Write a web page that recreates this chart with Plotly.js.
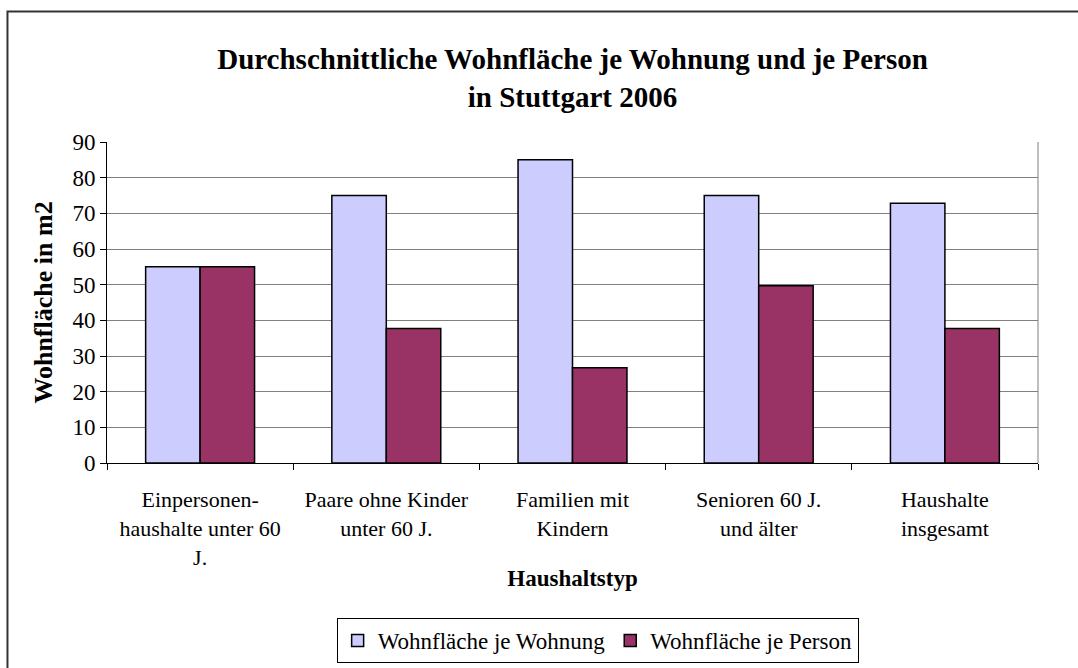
<!DOCTYPE html>
<html>
<head>
<meta charset="utf-8">
<script src="https://cdn.plot.ly/plotly-3.0.1.min.js"></script>
<style>html,body{margin:0;padding:0;background:#fff;}#chart{width:1078px;height:668px;}</style>
</head>
<body>
<div id="chart"></div>
<script>
const categories = [
  "Einpersonen-<br>haushalte unter 60<br>J.",
  "Paare ohne Kinder<br>unter 60 J.",
  "Familien mit<br>Kindern",
  "Senioren 60 J.<br>und älter",
  "Haushalte<br>insgesamt"
];
const wohnungValues = [55, 75, 85, 75, 72.8];
const personValues = [55, 37.7, 26.7, 49.7, 37.7];
const seriesNames = ["Wohnfläche je Wohnung", "Wohnfläche je Person"];
const titleText = "<b>Durchschnittliche Wohnfläche je Wohnung und je Person<br>in Stuttgart 2006</b>";
const xTitle = "<b>Haushaltstyp</b>";
const yTitle = "<b>Wohnfläche in m2</b>";

const serif = "'Times New Roman', 'Liberation Serif', 'DejaVu Serif', Times, serif";

const traces = [
  {type: "bar", name: seriesNames[0], x: categories, y: wohnungValues,
   marker: {color: "#CCCCFF", line: {color: "#000", width: 1.5}}, hoverinfo: "y"},
  {type: "bar", name: seriesNames[1], x: categories, y: personValues,
   marker: {color: "#993366", line: {color: "#000", width: 1.5}}, hoverinfo: "y"}
];

const layout = {
  width: 1078, height: 668,
  margin: {l: 107, r: 40, t: 142, b: 205, autoexpand: false},
  paper_bgcolor: "#fff", plot_bgcolor: "#fff",
  font: {family: serif, color: "#000", size: 20},
  title: {text: titleText, x: 0.5, xref: "paper", y: 0.896, yanchor: "middle",
          font: {family: serif, size: 29, color: "#000"}},
  barmode: "group", bargap: 0.415, bargroupgap: 0,
  showlegend: true,
  legend: {orientation: "h", x: 0.527, xanchor: "center", y: -0.483, yanchor: "top",
           bordercolor: "#000", borderwidth: 1, font: {family: serif, size: 23, color: "#000"},
           traceorder: "normal", itemwidth: 30},
  xaxis: {type: "category", showline: true, linecolor: "#000", linewidth: 1,
          ticks: "outside", tickson: "boundaries", ticklen: 6, tickcolor: "#000",
          tickfont: {family: serif, size: 22, color: "#000"}, ticklabelstandoff: 17,
          title: {text: xTitle, font: {family: serif, size: 23, color: "#000"}, standoff: 1},
          showgrid: false, zeroline: false, automargin: false},
  yaxis: {range: [0, 90], dtick: 10, showline: true, linecolor: "#000", linewidth: 1,
          ticks: "outside", ticklen: 6, tickcolor: "#000",
          tickfont: {family: serif, size: 23, color: "#000"}, ticklabelstandoff: 0,
          showgrid: true, gridcolor: "#808080", gridwidth: 1, zeroline: false,
          title: {text: yTitle, font: {family: serif, size: 26, color: "#000"}, standoff: 12},
          automargin: false},
  shapes: [
    {type: "line", xref: "paper", yref: "paper", x0: 1, x1: 1, y0: 0, y1: 1,
     line: {color: "#808080", width: 1}},
    {type: "rect", xref: "paper", yref: "paper", x0: -0.1069, x1: 1.2, y0: -1, y1: 1.4065,
     line: {color: "#333", width: 2}, fillcolor: "rgba(0,0,0,0)", layer: "below"}
  ]
};

Plotly.newPlot("chart", traces, layout, {displayModeBar: false, staticPlot: true});
</script>
</body>
</html>
